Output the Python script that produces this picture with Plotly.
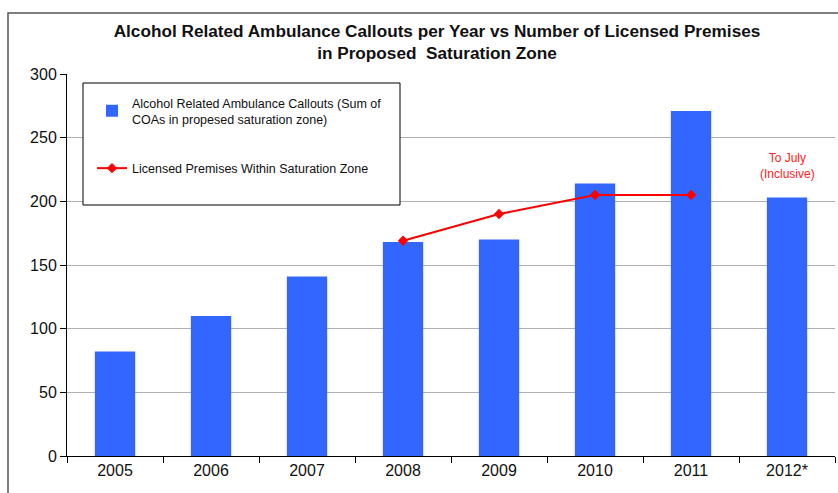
import plotly.graph_objects as go

years = ["2005", "2006", "2007", "2008", "2009", "2010", "2011", "2012*"]
callouts = [82, 110, 141, 168, 170, 214, 271, 203]
premises_years = ["2008", "2009", "2010", "2011"]
premises = [169, 190, 205, 205]
y_ticks = [0, 50, 100, 150, 200, 250, 300]

W, H = 838, 493
L, R, T, B = 67, 3, 74, 37
pw, ph = W - L - R, H - T - B

def px_x(p):
    return (p - L) / pw

def px_y(p):
    return (H - B - p) / ph

FONT = "Liberation Sans, Arial, sans-serif"

fig = go.Figure()
fig.add_trace(go.Bar(
    x=years, y=callouts,
    name="Alcohol Related Ambulance Callouts (Sum of<br>COAs in propesed saturation zone)",
    marker=dict(color="#3366FF", line=dict(width=0)),
    legendgroup="a",
))
fig.add_trace(go.Scatter(
    x=premises_years, y=premises, mode="lines+markers",
    name="Licensed Premises Within Saturation Zone",
    line=dict(color="#FF0000", width=2),
    marker=dict(symbol="diamond", size=8, color="#FF0000"),
    legendgroup="b",
))

fig.add_annotation(x="2012*", y=228, text="To July<br>(Inclusive)", showarrow=False,
                   font=dict(family=FONT, size=12, color="#FF2020"))

# outer chart border
fig.add_shape(type="rect", xref="paper", yref="paper",
              x0=px_x(8), x1=px_x(850), y0=px_y(505), y1=px_y(13),
              line=dict(color="#555555", width=1.5), layer="below")
# legend box
fig.add_shape(type="rect", xref="paper", yref="paper",
              x0=px_x(83), x1=px_x(400), y0=px_y(205), y1=px_y(83),
              line=dict(color="#000000", width=1), fillcolor="white", layer="above")

fig.update_layout(
    width=W, height=H,
    margin=dict(l=L, r=R, t=T, b=B, autoexpand=False),
    paper_bgcolor="white", plot_bgcolor="white",
    title=dict(text="<b>Alcohol Related Ambulance Callouts per Year vs Number of Licensed Premises<br>in Proposed  Saturation Zone</b>",
               x=437 / W, xanchor="center", y=1 - 37 / H, yanchor="middle",
               font=dict(family=FONT, size=17.2, color="#111111")),
    bargap=0.58,
    showlegend=True,
    legend=dict(x=px_x(92), y=px_y(88), xanchor="left", yanchor="top",
                bgcolor="rgba(0,0,0,0)", borderwidth=0,
                font=dict(family=FONT, size=12.5, color="#111111"),
                tracegroupgap=30, traceorder="grouped", itemwidth=30),
    xaxis=dict(showline=True, linecolor="black", linewidth=1, automargin=False,
               ticks="outside", ticklen=6, tickcolor="black", tickson="boundaries",
               tickfont=dict(family=FONT, size=16, color="#111111"),
               showgrid=False),
    yaxis=dict(range=[0, 300], tickvals=y_ticks, showline=True, linecolor="black", linewidth=1,
               automargin=False,
               ticks="outside", ticklen=6, tickcolor="black",
               showgrid=True, gridcolor="#B0B0B0", gridwidth=1, zeroline=False,
               tickfont=dict(family=FONT, size=16, color="#111111")),
)

fig.write_html("out.html", config={"displayModeBar": False},
               post_script="document.body.style.margin='0';document.body.style.overflow='hidden';")
